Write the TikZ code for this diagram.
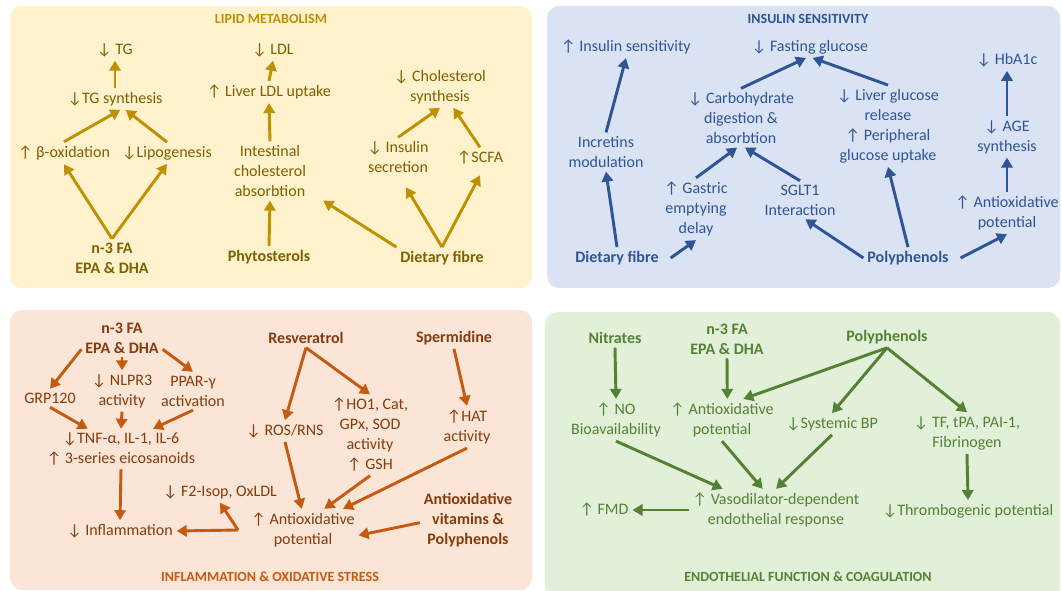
\documentclass[tikz,border=0pt]{standalone}
\usepackage{fontspec}
\usepackage{newunicodechar}
\usepackage{tikz}
\usepackage{xcolor}
\usetikzlibrary{arrows.meta}
\setmainfont{Carlito}
\newfontfamily\arrfont{DejaVu Sans}
\newunicodechar{↑}{\iffontchar\font"2191 \symbol{"2191}\else{\arrfont\symbol{"2191}}\fi}
\newunicodechar{↓}{\iffontchar\font"2193 \symbol{"2193}\else{\arrfont\symbol{"2193}}\fi}
\definecolor{lipBG}{HTML}{FFF2CC}
\definecolor{lipT}{HTML}{7F6000}
\definecolor{lipA}{HTML}{BF9000}
\definecolor{insBG}{HTML}{DAE3F3}
\definecolor{insT}{HTML}{2F5597}
\definecolor{infBG}{HTML}{FBE5D6}
\definecolor{infT}{HTML}{843C0C}
\definecolor{infA}{HTML}{C55A11}
\definecolor{endBG}{HTML}{E2F0D9}
\definecolor{endT}{HTML}{548235}

\begin{document}
\begin{tikzpicture}[x=0.75pt,y=-0.75pt]
      \useasboundingbox (0,0) rectangle (1062,591);
      \tikzset{T/.style = {align=center, inner sep=1pt, outer sep=2pt, font=\fontsize{12}{15}\selectfont}}
      \tikzset{B/.style = {T, font=\fontsize{12}{15}\selectfont\bfseries}}
      \tikzset{H/.style = {inner sep=1pt, font=\fontsize{10.5}{12}\selectfont\bfseries}}
      \tikzset{E/.style = {draw, line width=2.2pt, -{Triangle[length=7.5pt,width=8.5pt]}}}
      \tikzset{P/.style = {rounded corners=9pt}}

      \begin{scope}[T/.append style={text=lipT}, H/.append style={text=lipA}, E/.append style={draw=lipA}]
      \fill[P,lipBG] (10,6) rectangle (532,288);
      \node[H](t1) at (271,19) {LIPID METABOLISM};
      \node[T](tg) at (115,50) {↓ TG};
      \node[T](tgs) at (115,99) {↓TG synthesis};
      \node[T](box) at (64,153) {↑ β-oxidation};
      \node[T](lipo) at (167,153) {↓Lipogenesis};
      \node[B](lfa) at (112,258) {n-3 FA\\EPA \& DHA};
      \node[T](ldl) at (273,50) {↓ LDL};
      \node[T](lldl) at (269,92) {↑ Liver LDL uptake};
      \node[T](intes) at (270,171) {Intestinal\\cholesterol\\absorbtion};
      \node[B](phyto) at (269,257) {Phytosterols};
      \node[B](lfib) at (442,258) {Dietary fibre};
      \node[T](insec) at (398,157) {↓ Insulin\\secretion};
      \node[T](scfa) at (480,158) {↑SCFA};
      \node[T](chol) at (440,87) {↓ Cholesterol\\synthesis};
      \draw[E](tgs.north) to (tg.south);
      \draw[E](box.north) to ([xshift=4pt]tgs.south);
      \draw[E](lipo.north) to ([xshift=8pt]tgs.south);
      \draw[E](lfa.north) to (box.south);
      \draw[E](lfa.north) to (lipo.south);
      \draw[E](lldl.north) to (ldl.south);
      \draw[E](intes.north) to (lldl.south);
      \draw[E](phyto.north) to (intes.south);
      \draw[E](lfib.north west) to ([xshift=10pt]intes.south east);
      \draw[E](lfib.north) to ([xshift=6pt,yshift=-8pt]insec.south);
      \draw[E](lfib.north) to ([yshift=-5pt]scfa.south);
      \draw[E](insec.north) to (chol.south);
      \draw[E](scfa.north) to ([xshift=10pt]chol.south);
      \end{scope}

      \begin{scope}[T/.append style={text=insT}, H/.append style={text=insT}, E/.append style={draw=insT}]
      \fill[P,insBG] (547,6) rectangle (1060,288);
      \node[H](t2) at (808,19) {INSULIN SENSITIVITY};
      \node[T](insen) at (626,47) {↑ Insulin sensitivity};
      \node[T](fast) at (810,47) {↓ Fasting glucose};
      \node[T](incr) at (606,152) {Incretins\\modulation};
      \node[T](carb) at (741,118) {↓ Carbohydrate\\digestion \&\\absorbtion};
      \node[T](liver) at (888,126) {↓ Liver glucose\\release\\↑ Peripheral\\glucose uptake};
      \node[T](gast) at (696,209) {↑ Gastric\\emptying\\delay};
      \node[T](sglt) at (800,200) {SGLT1\\Interaction};
      \node[T](hba) at (1007,60) {↓ HbA1c};
      \node[T](age) at (1007,137) {↓ AGE\\synthesis};
      \node[T](iant) at (1007,213) {↑ Antioxidative\\potential};
      \node[B](ifib) at (617,258) {Dietary fibre};
      \node[B](ipoly) at (908,258) {Polyphenols};
      \draw[E](incr.north) to (insen.south);
      \draw[E](ifib.north) to (incr.south);
      \draw[E]([xshift=6pt]ifib.east) to (gast.south);
      \draw[E](gast.north) to ([xshift=-3pt]carb.south);
      \draw[E](sglt.north) to ([xshift=3pt]carb.south);
      \draw[E](carb.north) to ([xshift=-3pt]fast.south);
      \draw[E](liver.north) to ([xshift=2pt]fast.south);
      \draw[E](ipoly.north) to (liver.south);
      \draw[E](ipoly.west) to ([xshift=4pt]sglt.south);
      \draw[E]([xshift=6pt]ipoly.east) to (iant.south);
      \draw[E](iant.north) to (age.south);
      \draw[E](age.north) to (hba.south);
      \end{scope}

      \begin{scope}[T/.append style={text=infT}, H/.append style={text=infA}, E/.append style={draw=infA}]
      \fill[P,infBG] (10,310) rectangle (532,590);
      \node[H](t3) at (270,577) {INFLAMMATION \& OXIDATIVE STRESS};
      \node[B](ofa) at (122,338) {n-3 FA\\EPA \& DHA};
      \node[T](grp) at (50,398) {GRP120};
      \node[T](nlrp) at (122,391) {↓ NLPR3\\activity};
      \node[T](ppar) at (193,391) {PPAR-γ\\activation};
      \node[T](tnf) at (121,449) {↓TNF-α, IL-1, IL-6\\↑ 3-series eicosanoids};
      \node[T](infl) at (120,531) {↓ Inflammation};
      \node[T](f2) at (220,492) {↓ F2-Isop, OxLDL};
      \node[T](oant) at (303,530) {↑ Antioxidative\\potential};
      \node[B](resv) at (306,338) {Resveratrol};
      \node[T](ros) at (285,431) {↓ ROS/RNS};
      \node[T](ho) at (370,435) {↑HO1, Cat,\\GPx, SOD\\activity\\↑ GSH};
      \node[B](sperm) at (454,338) {Spermidine};
      \node[T](hat) at (467,427) {↑HAT\\activity};
      \node[B](ovit) at (468,520) {Antioxidative\\vitamins \&\\Polyphenols};
      \coordinate (split) at (238,530);
      \draw[E]([yshift=6pt]ofa.south west) to (grp.north);
      \draw[E](ofa.south) to (nlrp.north);
      \draw[E]([yshift=6pt]ofa.south east) to (ppar.north);
      \draw[E](grp.south) to ([xshift=-25pt]tnf.north);
      \draw[E](nlrp.south) to (tnf.north);
      \draw[E](ppar.south) to ([xshift=24pt]tnf.north);
      \draw[E](tnf.south) to (infl.north);
      \draw[E](split) to (infl.east);
      \draw[E](split) to (f2.south);
      \draw[E](resv.south) to (ros.north);
      \draw[E](resv.south) to (ho.north);
      \draw[E](sperm.south) to (hat.north);
      \draw[E](ros.south) to ([xshift=-1pt]oant.north);
      \draw[E](ho.south) to ([xshift=16pt]oant.north);
      \draw[E](hat.south) to ([xshift=30pt]oant.north);
      \draw[E]([yshift=-2pt]ovit.west) to ([yshift=-4pt]oant.east);
      \end{scope}

      \begin{scope}[T/.append style={text=endT}, H/.append style={text=endT}, E/.append style={draw=endT}]
      \fill[P,endBG] (545,312) rectangle (1060,600);
      \node[H](t4) at (808,577) {ENDOTHELIAL FUNCTION \& COAGULATION};
      \node[B](nitr) at (615,338) {Nitrates};
      \node[T](no) at (616,420) {↑ NO\\Bioavailability};
      \node[B](efa) at (727,339) {n-3 FA\\EPA \& DHA};
      \node[T](eant) at (722,420) {↑ Antioxidative\\potential};
      \node[B](epoly) at (887,337) {Polyphenols};
      \node[T](bp) at (832,424) {↓Systemic BP};
      \node[T](tf) at (967,433) {↓ TF, tPA, PAI-1,\\Fibrinogen};
      \node[T](thr) at (968,511) {↓Thrombogenic potential};
      \node[T](vaso) at (776,510) {↑ Vasodilator-dependent\\endothelial response};
      \node[T](fmd) at (604,510) {↑ FMD};
      \draw[E](nitr.south) to (no.north);
      \draw[E](efa.south) to ([xshift=4pt]eant.north);
      \draw[E](epoly.south) to ([xshift=16pt]eant.north);
      \draw[E](epoly.south) to (bp.north);
      \draw[E](epoly.south) to (tf.north);
      \draw[E](tf.south) to (thr.north);
      \draw[E](no.south) to ([xshift=-40pt]vaso.north);
      \draw[E](eant.south) to ([xshift=-10pt]vaso.north);
      \draw[E](bp.south) to (vaso.north);
      \draw[E](vaso.west) to (fmd.east);
      \end{scope}
\end{tikzpicture}
\end{document}
